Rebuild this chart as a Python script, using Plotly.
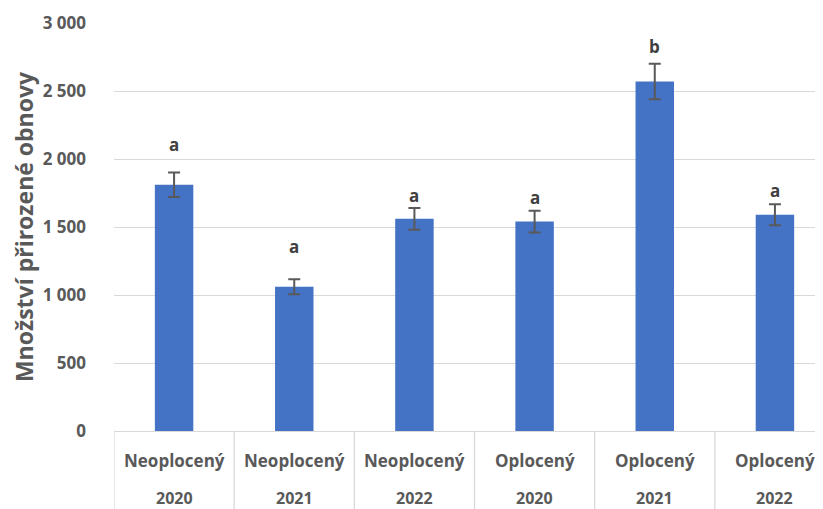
import plotly.graph_objects as go

groups = ["Neoplocený", "Neoplocený", "Neoplocený", "Oplocený", "Oplocený", "Oplocený"]
years = ["2020", "2021", "2022", "2020", "2021", "2022"]
means = [1810, 1060, 1560, 1540, 2570, 1590]
errors = [90, 55, 80, 80, 130, 78]
letters = ["a", "a", "a", "a", "b", "a"]
letter_heights = [2110, 1355, 1732, 1716, 2827, 1767]
y_title = "Množství přirozené obnovy"

FONT = "Open Sans"
GRAY = "#595959"
xs = list(range(len(means)))

fig = go.Figure()
fig.add_trace(go.Bar(
    x=xs, y=means, width=0.32,
    marker=dict(color="#4472C4", line=dict(width=0)),
    error_y=dict(type="data", array=errors, visible=True, color=GRAY, thickness=2, width=6),
    hoverinfo="skip",
))

annotations = []
for i in xs:
    annotations.append(dict(x=i, y=letter_heights[i], xref="x", yref="y", text=letters[i],
                            showarrow=False, yanchor="middle",
                            font=dict(family=FONT, size=17, color="#404040", weight="bold")))
    annotations.append(dict(x=i, y=0, xref="x", yref="paper", text=groups[i], showarrow=False,
                            yanchor="middle", yshift=-29,
                            font=dict(family=FONT, size=17, color=GRAY, weight="bold")))
    annotations.append(dict(x=i, y=0, xref="x", yref="paper", text=years[i], showarrow=False,
                            yanchor="middle", yshift=-67, borderpad=0,
                            font=dict(family=FONT, size=16, color=GRAY, weight="bold")))

shapes = []
for i in range(len(means) + 1):
    shapes.append(dict(type="line", xref="x", yref="paper", x0=i - 0.5, x1=i - 0.5, y0=0, y1=-0.2,
                       line=dict(color="#d9d9d9", width=1.3)))

fig.update_layout(
    width=815, height=501,
    margin=dict(l=106, r=0, t=15, b=78, autoexpand=False),
    paper_bgcolor="white", plot_bgcolor="white",
    separators=", ",
    showlegend=False,
    annotations=annotations,
    shapes=shapes,
    xaxis=dict(range=[-0.5, 5.4], showticklabels=False, showgrid=False, zeroline=False,
               showline=True, linecolor="#d9d9d9", linewidth=1.3, fixedrange=True, automargin=False),
    yaxis=dict(range=[0, 3000], dtick=500, tickformat=",d", showgrid=True, gridcolor="#d9d9d9",
               gridwidth=1.3, zeroline=False, showline=False, ticks="", automargin=False,
               tickfont=dict(family=FONT, size=17, color=GRAY, weight="bold"), ticklabelstandoff=27,
               title=dict(text=y_title, font=dict(family=FONT, size=23, color=GRAY, weight="bold"), standoff=8)),
)

fig.write_html("out.html")
